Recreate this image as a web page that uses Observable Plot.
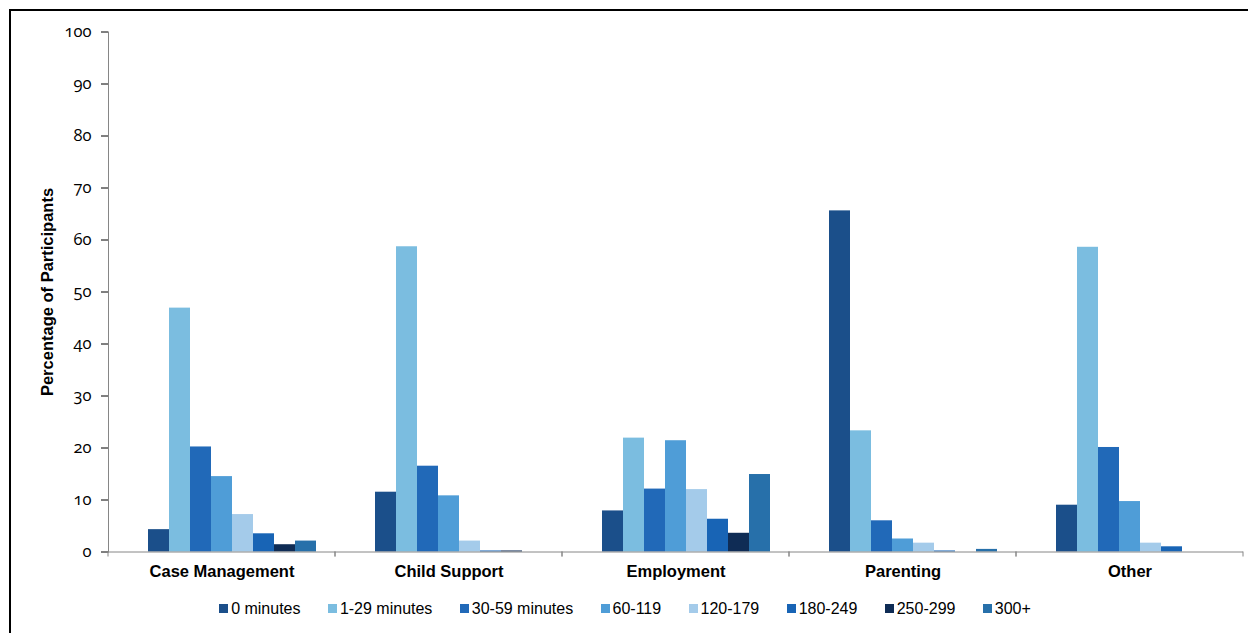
<!DOCTYPE html>
<html>
<head>
<meta charset="utf-8">
<script src="https://cdn.jsdelivr.net/npm/d3@7"></script>
<script src="https://cdn.jsdelivr.net/npm/@observablehq/plot@0.6"></script>
<style>
html, body { margin: 0; padding: 0; background: #fff; }
#wrap { position: relative; width: 1248px; height: 633px; overflow: hidden; background: #fff; }
#frame { position: absolute; left: 9px; top: 8.5px; width: 1400px; height: 800px; border-left: 2px solid #000; border-top: 2px solid #000; box-sizing: border-box; }
#chart { position: absolute; left: 0; top: 0; }
#chart svg line { stroke: #868686; }
#chart svg text { font-variant-numeric: oldstyle-nums; }
#chart g[aria-label^="y-axis"] text { font-size: 16.5px; font-family: "Open Sans", "DejaVu Sans", sans-serif; }
#chart g[aria-label^="fx-axis"] text { font: bold 16.5px "Liberation Sans", Arial, sans-serif; font-variant-numeric: normal; }
#ylabel { position: absolute; left: 47px; top: 291.5px; transform: translate(-50%, -50%) rotate(-90deg); font: bold 16.5px "Liberation Sans", Arial, sans-serif; white-space: nowrap; color: #000; }
#legend { position: absolute; left: 5.5px; width: 1239px; top: 599px; text-align: center; font: 16px "Liberation Sans", Arial, sans-serif; line-height: 18px; color: #000; white-space: nowrap; }
#legend .item { display: inline-flex; align-items: center; margin: 0 13.7px; }
#legend .sw { width: 9px; height: 9px; margin-right: 3px; display: inline-block; }
</style>
</head>
<body>
<div id="wrap">
  <div id="frame"></div>
  <div id="chart"></div>
  <div id="ylabel">Percentage of Participants</div>
  <div id="legend"></div>
</div>
<script>
const categories = ["Case Management", "Child Support", "Employment", "Parenting", "Other"];
const series = ["0 minutes", "1-29 minutes", "30-59 minutes", "60-119", "120-179", "180-249", "250-299", "300+"];
const seriesColors = ["#1b4f8a", "#7bbde0", "#2169b8", "#4f9dd7", "#a4cbea", "#1864b5", "#0f2c55", "#2770aa"];

const caseManagement = [4.3, 46.9, 20.2, 14.5, 7.2, 3.5, 1.4, 2.1];
const childSupport   = [11.5, 58.7, 16.5, 10.8, 2.1, 0.2, 0.2, 0];
const employment     = [7.9, 21.9, 12.1, 21.4, 12.0, 6.3, 3.6, 14.9];
const parenting      = [65.6, 23.3, 6.0, 2.5, 1.7, 0.2, 0, 0.5];
const other          = [9.0, 58.6, 20.1, 9.7, 1.7, 1.0, 0, 0];

const yTicks = [0, 10, 20, 30, 40, 50, 60, 70, 80, 90, 100];

const valuesByCategory = [caseManagement, childSupport, employment, parenting, other];
const rows = [];
categories.forEach((c, i) => {
  series.forEach((s, j) => rows.push({category: c, series: s, value: valuesByCategory[i][j]}));
});

function boundaryTicks(index, scales) {
  const [x0, x1] = scales.x.range();
  const y0 = scales.y(0);
  const g = d3.create("svg:g");
  for (const xv of [x0, x1]) {
    g.append("line").attr("x1", xv).attr("x2", xv).attr("y1", y0).attr("y2", y0 + 5).attr("stroke", "#868686");
  }
  return g.node();
}

const chart = Plot.plot({
  width: 1248,
  height: 590,
  marginLeft: 107,
  marginRight: 5,
  marginTop: 31.5,
  marginBottom: 38.5,
  style: {fontFamily: "'Open Sans', 'DejaVu Sans', sans-serif", fontSize: "15px", color: "#000", background: "transparent", overflow: "visible"},
  fx: {domain: categories, padding: 0, label: null, axis: "bottom", tickSize: 0, tickPadding: 13},
  x: {domain: ["_gap", ...series], paddingInner: 0, paddingOuter: 0.7, axis: null},
  y: {domain: [0, 100], ticks: yTicks, tickSize: 7, tickPadding: 10, label: null, line: true},
  color: {domain: series, range: seriesColors},
  marks: [
    Plot.barY(rows, {fx: "category", x: "series", y: "value", fill: "series"}),
    Plot.ruleY([0], {stroke: "#868686"}),
    boundaryTicks
  ]
});
document.getElementById("chart").appendChild(chart);

const legend = document.getElementById("legend");
series.forEach((s, i) => {
  const item = document.createElement("span");
  item.className = "item";
  const sw = document.createElement("span");
  sw.className = "sw";
  sw.style.background = seriesColors[i];
  const t = document.createElement("span");
  t.textContent = s;
  item.appendChild(sw);
  item.appendChild(t);
  legend.appendChild(item);
});
</script>
</body>
</html>
